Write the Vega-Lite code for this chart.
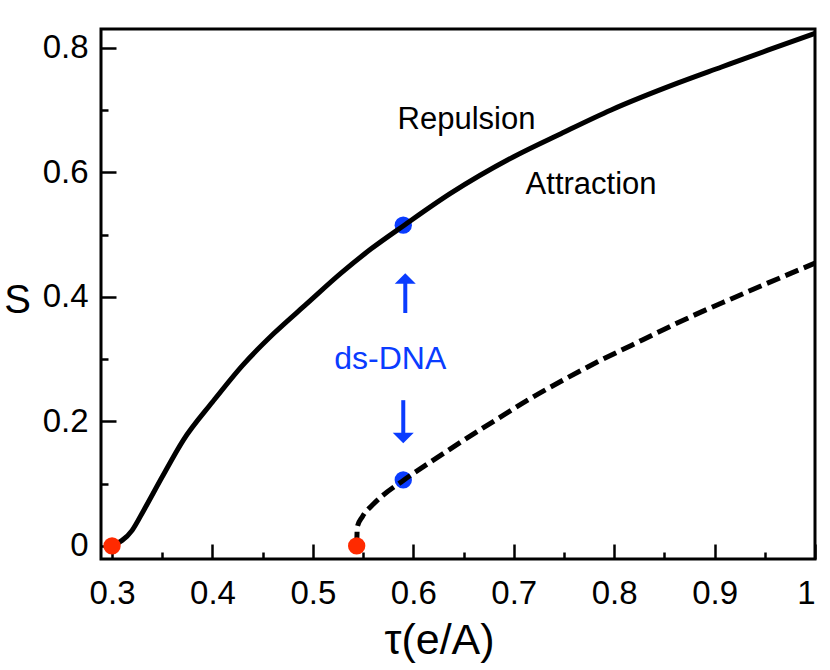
{
  "$schema": "https://vega.github.io/schema/vega-lite/v6.json",
  "width": 714,
  "height": 530,
  "autosize": {"type": "none"},
  "padding": {"left": 101, "top": 29, "right": 15, "bottom": 111},
  "background": "white",
  "config": {
    "view": {"stroke": "black", "strokeWidth": 3},
    "font": "Liberation Sans"
  },
  "datasets": {
    "curves": [
      {"curve": "solid", "tau": 0.300, "s": 0.000},
      {"curve": "solid", "tau": 0.320, "s": 0.025},
      {"curve": "solid", "tau": 0.3315, "s": 0.057},
      {"curve": "solid", "tau": 0.350, "s": 0.111},
      {"curve": "solid", "tau": 0.371, "s": 0.170},
      {"curve": "solid", "tau": 0.400, "s": 0.231},
      {"curve": "solid", "tau": 0.430, "s": 0.290},
      {"curve": "solid", "tau": 0.461, "s": 0.341},
      {"curve": "solid", "tau": 0.494, "s": 0.389},
      {"curve": "solid", "tau": 0.528, "s": 0.438},
      {"curve": "solid", "tau": 0.558, "s": 0.477},
      {"curve": "solid", "tau": 0.591, "s": 0.515},
      {"curve": "solid", "tau": 0.637, "s": 0.566},
      {"curve": "solid", "tau": 0.700, "s": 0.625},
      {"curve": "solid", "tau": 0.747, "s": 0.662},
      {"curve": "solid", "tau": 0.797, "s": 0.700},
      {"curve": "solid", "tau": 0.863, "s": 0.743},
      {"curve": "solid", "tau": 0.907, "s": 0.769},
      {"curve": "solid", "tau": 0.953, "s": 0.796},
      {"curve": "solid", "tau": 1.000, "s": 0.823},
      {"curve": "dashed", "tau": 0.5436, "s": 0.000},
      {"curve": "dashed", "tau": 0.5443, "s": 0.031},
      {"curve": "dashed", "tau": 0.5493, "s": 0.047},
      {"curve": "dashed", "tau": 0.5608, "s": 0.068},
      {"curve": "dashed", "tau": 0.5907, "s": 0.106},
      {"curve": "dashed", "tau": 0.6173, "s": 0.135},
      {"curve": "dashed", "tau": 0.6505, "s": 0.170},
      {"curve": "dashed", "tau": 0.6838, "s": 0.204},
      {"curve": "dashed", "tau": 0.717, "s": 0.237},
      {"curve": "dashed", "tau": 0.750, "s": 0.267},
      {"curve": "dashed", "tau": 0.784, "s": 0.296},
      {"curve": "dashed", "tau": 0.817, "s": 0.322},
      {"curve": "dashed", "tau": 0.850, "s": 0.348},
      {"curve": "dashed", "tau": 0.883, "s": 0.373},
      {"curve": "dashed", "tau": 0.917, "s": 0.397},
      {"curve": "dashed", "tau": 0.950, "s": 0.420},
      {"curve": "dashed", "tau": 1.000, "s": 0.454}
    ],
    "dots": [
      {"kind": "dsDNA", "tau": 0.590, "s": 0.515},
      {"kind": "dsDNA", "tau": 0.590, "s": 0.106},
      {"kind": "onset", "tau": 0.300, "s": 0.000},
      {"kind": "onset", "tau": 0.5436, "s": 0.000}
    ],
    "arrows": [
      {"dir": "up", "tau": 0.592, "s": 0.374, "s2": 0.424, "tip": 0.438},
      {"dir": "down", "tau": 0.590, "s": 0.234, "s2": 0.180, "tip": 0.165}
    ],
    "labels": [
      {"kind": "black", "tau": 0.653, "s": 0.669, "label": "Repulsion"},
      {"kind": "black", "tau": 0.777, "s": 0.565, "label": "Attraction"},
      {"kind": "blue", "tau": 0.577, "s": 0.284, "label": "ds-DNA"}
    ]
  },
  "resolve": {"axis": {"x": "independent", "y": "independent"}},
  "layer": [
    {
      "data": {"name": "dots"},
      "transform": [{"filter": "datum.kind === 'dsDNA'"}],
      "mark": {"type": "point", "shape": "circle", "filled": true, "size": 300, "color": "#0a3cff", "opacity": 1},
      "encoding": {
        "x": {
          "field": "tau", "type": "quantitative",
          "scale": {"domain": [0.289, 1.0], "nice": false, "zero": false},
          "axis": {
            "orient": "bottom",
            "values": [0.35, 0.45, 0.55, 0.65, 0.75, 0.85, 0.95],
            "domain": false, "grid": false, "labels": false, "title": null,
            "tickColor": "black", "tickWidth": 2.5, "tickSize": -7
          }
        },
        "y": {
          "field": "s", "type": "quantitative",
          "scale": {"domain": [-0.021, 0.830], "nice": false, "zero": false},
          "axis": {
            "orient": "left",
            "values": [0.1, 0.3, 0.5, 0.7],
            "domain": false, "grid": false, "labels": false, "title": null,
            "tickColor": "black", "tickWidth": 2.5, "tickSize": -7
          }
        }
      }
    },
    {
      "data": {"name": "curves"},
      "transform": [{"filter": "datum.curve === 'solid'"}],
      "mark": {"type": "line", "color": "black", "strokeWidth": 5, "interpolate": "monotone", "strokeCap": "butt"},
      "encoding": {
        "x": {
          "field": "tau", "type": "quantitative",
          "axis": {
            "orient": "bottom",
            "values": [0.3, 0.4, 0.5, 0.6, 0.7, 0.8, 0.9, 1.0],
            "domain": false, "grid": false,
            "tickColor": "black", "tickWidth": 2.5, "tickSize": -15,
            "labelExpr": "format(datum.value,'.1~f')",
            "labelFont": "Liberation Sans", "labelFontSize": 33, "labelColor": "black",
            "labelPadding": 33,
            "title": "τ(e/A)",
            "titleFont": "Liberation Sans", "titleFontSize": 43, "titleFontWeight": "normal",
            "titleColor": "black", "titleX": 338, "titleY": 94, "titleBaseline": "alphabetic"
          }
        },
        "y": {
          "field": "s", "type": "quantitative",
          "axis": {
            "orient": "left",
            "values": [0, 0.2, 0.4, 0.6, 0.8],
            "domain": false, "grid": false,
            "tickColor": "black", "tickWidth": 2.5, "tickSize": -15,
            "labelExpr": "format(datum.value,'.1~f')",
            "labelFont": "Liberation Sans", "labelFontSize": 33, "labelColor": "black",
            "labelPadding": 28,
            "title": "S",
            "titleFont": "Liberation Sans", "titleFontSize": 40, "titleFontWeight": "normal",
            "titleColor": "black", "titleAngle": 0, "titleAlign": "center",
            "titleBaseline": "alphabetic", "titleX": -84, "titleY": 283
          }
        }
      }
    },
    {
      "data": {"name": "curves"},
      "transform": [{"filter": "datum.curve === 'dashed'"}],
      "mark": {"type": "line", "color": "black", "strokeWidth": 5, "interpolate": "monotone", "strokeDash": [14, 6], "strokeCap": "butt"},
      "encoding": {
        "x": {"field": "tau", "type": "quantitative", "axis": null},
        "y": {"field": "s", "type": "quantitative", "axis": null}
      }
    },
    {
      "data": {"name": "dots"},
      "transform": [{"filter": "datum.kind === 'onset'"}],
      "mark": {"type": "point", "shape": "circle", "filled": true, "size": 300, "color": "#ff2a00", "opacity": 1},
      "encoding": {
        "x": {"field": "tau", "type": "quantitative", "axis": null},
        "y": {"field": "s", "type": "quantitative", "axis": null}
      }
    },
    {
      "data": {"name": "arrows"},
      "mark": {"type": "rule", "color": "#0a3cff", "strokeWidth": 4},
      "encoding": {
        "x": {"field": "tau", "type": "quantitative", "axis": null},
        "y": {"field": "s", "type": "quantitative", "axis": null},
        "y2": {"field": "s2"}
      }
    },
    {
      "data": {"name": "arrows"},
      "transform": [{"filter": "datum.dir === 'up'"}],
      "mark": {"type": "point", "shape": "M-1,1L0,0L1,1Z", "filled": true, "size": 441, "color": "#0a3cff", "opacity": 1, "strokeWidth": 0},
      "encoding": {
        "x": {"field": "tau", "type": "quantitative", "axis": null},
        "y": {"field": "tip", "type": "quantitative", "axis": null}
      }
    },
    {
      "data": {"name": "arrows"},
      "transform": [{"filter": "datum.dir === 'down'"}],
      "mark": {"type": "point", "shape": "M-1,-1L0,0L1,-1Z", "filled": true, "size": 441, "color": "#0a3cff", "opacity": 1, "strokeWidth": 0},
      "encoding": {
        "x": {"field": "tau", "type": "quantitative", "axis": null},
        "y": {"field": "tip", "type": "quantitative", "axis": null}
      }
    },
    {
      "data": {"name": "labels"},
      "transform": [{"filter": "datum.kind === 'black'"}],
      "mark": {"type": "text", "font": "Liberation Sans", "fontSize": 31, "color": "black", "align": "center", "baseline": "alphabetic"},
      "encoding": {
        "x": {"field": "tau", "type": "quantitative", "axis": null},
        "y": {"field": "s", "type": "quantitative", "axis": null},
        "text": {"field": "label"}
      }
    },
    {
      "data": {"name": "labels"},
      "transform": [{"filter": "datum.kind === 'blue'"}],
      "mark": {"type": "text", "font": "Liberation Sans", "fontSize": 32, "color": "#0a3cff", "align": "center", "baseline": "alphabetic"},
      "encoding": {
        "x": {"field": "tau", "type": "quantitative", "axis": null},
        "y": {"field": "s", "type": "quantitative", "axis": null},
        "text": {"field": "label"}
      }
    }
  ]
}
